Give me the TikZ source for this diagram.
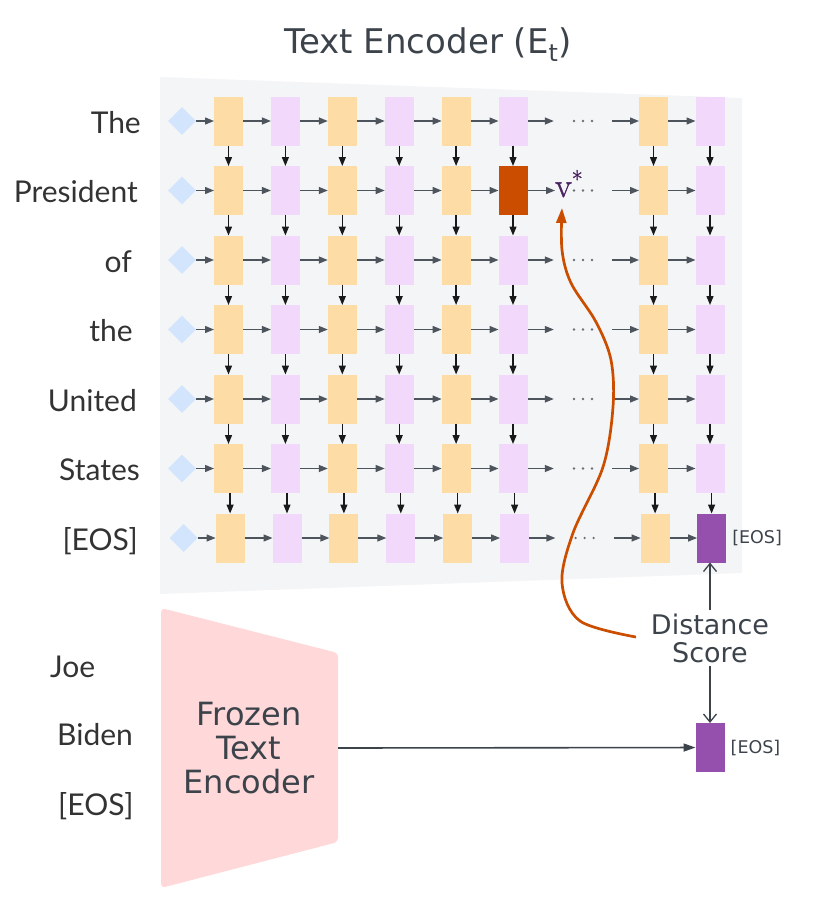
\documentclass[tikz,border=0pt]{standalone}
\usepackage{fontspec}
\setmainfont{DejaVu Sans}
\newfontfamily\thinfont{Lato}
\newfontfamily\serifv[FakeBold=1.2]{Latin Modern Roman}
\usetikzlibrary{arrows.meta,shapes.geometric}
\definecolor{panel}{HTML}{F4F5F7}
\definecolor{orangebox}{HTML}{FDDCA6}
\definecolor{purplebox}{HTML}{F2D9FC}
\definecolor{diam}{HTML}{D3E5FD}
\definecolor{darkorange}{HTML}{CB4E00}
\definecolor{eospurple}{HTML}{9550AE}
\definecolor{arrowgrey}{HTML}{4D545C}
\definecolor{textdark}{HTML}{3C434B}
\definecolor{frozen}{HTML}{FFD9D9}
\definecolor{vstarc}{HTML}{4A2461}
\definecolor{dotgrey}{HTML}{6A7078}
\begin{document}
\begin{tikzpicture}[x=1pt,y=-1pt,
  cell/.style={minimum width=29pt,minimum height=49pt,inner sep=0pt,outer sep=0pt},
  tok/.style={diamond,fill=diam,minimum width=28pt,minimum height=28pt,inner sep=0pt},
  harrow/.style={draw=arrowgrey,line width=1.3pt,-{Triangle[length=9pt,width=7pt]}},
  varrow/.style={draw=black!90,line width=1.3pt,-{Triangle[length=9pt,width=7pt]}},
  barb/.style={draw=textdark,line width=1.3pt,-{Straight Barb[length=8pt,width=13pt]}},
  lab/.style={font=\thinfont\fontsize{30}{30}\selectfont,text=black!80,inner sep=0pt},
  eoslab/.style={font=\fontsize{17.5}{17.5}\selectfont,text=textdark,inner sep=0pt},
  ]
\useasboundingbox (0,0) rectangle (830,924);
% panel
\fill[panel] (160,77) -- (742,98) -- (742,573) -- (160,594) -- cycle;
% title
\node[font=\fontsize{34}{34}\selectfont,text=textdark,anchor=base] (title) at (428,53) {Text Encoder (E\textsubscript{t})};
% grid
\foreach \r in {1,...,7}{
  \pgfmathsetmacro{\yy}{121+69.5*(\r-1)}
  \pgfmathsetmacro{\dx}{\r==7 ? 1.6 : 0}
  \node[tok] (d\r) at ({182+\dx},\yy) {};
  \foreach \xx [count=\c] in {228.5,285.4,342.3,399.2,456.1,513,653.5,710}{
    \pgfmathtruncatemacro{\odd}{mod(\c,2)}
    \ifnum\odd=1 \def\cc{orangebox}\else\def\cc{purplebox}\fi
    \node[cell,fill=\cc] (b\r\c) at ({\xx+\dx},\yy) {};
  }
  \node[minimum width=58pt,minimum height=8pt,inner sep=0pt] (dots\r) at ({583+\dx},\yy) {};
  \foreach \k in {-9,0,9} \fill[dotgrey] ([xshift=\k pt]dots\r.center) circle (1.3pt);
}
\node[cell,fill=darkorange] (b26) at (513,190.5) {};
\node[cell,fill=eospurple] (b78) at (711.6,538) {};
% v*
\node[anchor=base west,inner sep=0pt,text=vstarc,font=\serifv\fontsize{34}{34}\selectfont] (vstar) at (555,197) {v\textsuperscript{\fontsize{24}{24}\selectfont *}};
% horizontal arrows
\foreach \r in {1,...,7}{
  \draw[harrow] (d\r) -- (b\r1);
  \foreach \c [evaluate=\c as \n using int(\c+1)] in {1,...,5} \draw[harrow] (b\r\c) -- (b\r\n);
  \draw[harrow] (dots\r) -- (b\r7);
  \draw[harrow] (b\r7) -- (b\r8);
}
\foreach \r in {1,3,4,5,6,7} \draw[harrow] (b\r6) -- (dots\r);
\draw[harrow] (b26.east) -- (b26.east -| vstar.west);
% vertical arrows
\foreach \r [evaluate=\r as \n using int(\r+1)] in {1,...,6}
  \foreach \c in {1,...,8}
    \draw[varrow] (b\r\c.south -| b\n\c.north) -- (b\n\c.north);
% labels left
\node[lab,anchor=base east] (l1) at (141,133) {The};
\node[lab,anchor=base east] (l2) at (138,202.5) {President};
\node[lab,anchor=base east] (l3) at (132,272) {of};
\node[lab,anchor=base east] (l4) at (133,341.5) {the};
\node[lab,anchor=base east] (l5) at (137,411) {United};
\node[lab,anchor=base east] (l6) at (140,480.5) {States};
\node[lab,anchor=base east] (l7) at (138,550) {[EOS]};
\node[lab,anchor=base west] (j1) at (50,677) {Joe};
\node[lab,anchor=base west] (j2) at (57,745) {Biden};
\node[lab,anchor=base west] (j3) at (58,815) {[EOS]};
% EOS tag
\node[eoslab,anchor=west] (eostag1) at ([xshift=6pt]b78.east) {[EOS]};
% frozen encoder
\fill[frozen,rounded corners=4pt] (161,608) -- (338,653) -- (338,842) -- (161,888) -- cycle;
\node[font=\fontsize{32}{34}\selectfont,text=textdark,align=center] (frozen) at (249,748) {Frozen\\Text\\Encoder};
\coordinate (fzout) at (338,748);
\node[cell,fill=eospurple] (eos2) at (710,747.5) {};
\node[eoslab,anchor=west] (eostag2) at ([xshift=6pt]eos2.east) {[EOS]};
\draw[line width=1.6pt,draw=textdark,-{Triangle[length=12pt,width=8pt]}] (fzout) -- (eos2);
% distance score
\node[font=\fontsize{27}{28}\selectfont,text=textdark,align=center,inner sep=3pt] (dist) at (710,638) {Distance\\Score};
\draw[barb] (dist.north) -- (dist.north |- b78.south);
\draw[barb] (dist.south) -- (eos2.north);
% red curve
\coordinate (cstart) at (636,637);
\coordinate (vtip) at (562,208);
\draw[line width=2.7pt,draw=darkorange,-{Triangle[length=15pt,width=10pt]}] plot[smooth,tension=0.55] coordinates {(cstart) (580,621) (562,583) (573,533) (603,467) (613,407) (611,360) (596,322) (571,283) (562,250) (vtip)};
\end{tikzpicture}
\end{document}
